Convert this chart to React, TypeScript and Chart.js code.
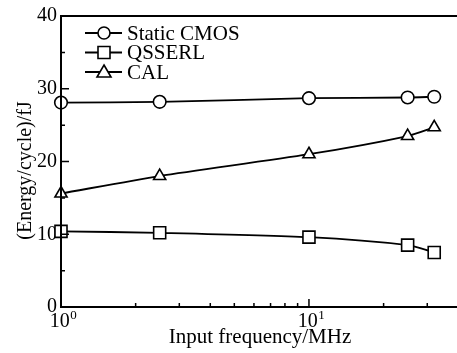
import React, { useEffect, useRef } from "react";
import { Chart, registerables } from "chart.js";

Chart.register(...registerables);

const frequencies = [1, 2.5, 10, 25, 32];
const staticCmos = [28.1, 28.2, 28.7, 28.8, 28.9];
const qsserl = [10.4, 10.2, 9.6, 8.5, 7.5];
const cal = [15.6, 18.0, 21.0, 23.5, 24.7];
const seriesNames = ["Static CMOS", "QSSERL", "CAL"];
const seriesMarkers = ["circle", "rect", "triangle"];
const yMajorTicks = [0, 10, 20, 30, 40];
const yMinorTicks = [5, 15, 25, 35];
const xMinorTicks = [2, 3, 4, 5, 6, 7, 8, 9, 20, 30];
const xMajorTicks = [1, 10];
const xTickExponents = ["0", "1"];
const xTitle = "Input frequency/MHz";
const yTitle = "(Energy/cycle)/fJ";

const FONT = '"Liberation Serif", "Times New Roman", serif';

function drawMarker(ctx: CanvasRenderingContext2D, kind: string, x: number, y: number) {
  ctx.save();
  ctx.fillStyle = "#fff";
  ctx.strokeStyle = "#000";
  ctx.lineWidth = 1.6;
  ctx.beginPath();
  if (kind === "circle") {
    ctx.arc(x, y, 6, 0, Math.PI * 2);
  } else if (kind === "rect") {
    ctx.rect(x - 6, y - 6, 12, 12);
  } else {
    ctx.moveTo(x, y - 7);
    ctx.lineTo(x + 7, y + 5);
    ctx.lineTo(x - 7, y + 5);
    ctx.closePath();
  }
  ctx.fill();
  ctx.stroke();
  ctx.restore();
}

const decorPlugin = {
  id: "decor",
  afterDraw(chart: any) {
    const ctx: CanvasRenderingContext2D = chart.ctx;
    const { left, top, bottom } = chart.chartArea;
    const xs = chart.scales.x;
    const ys = chart.scales.y;
    ctx.save();
    ctx.strokeStyle = "#000";
    ctx.lineWidth = 2;
    ctx.beginPath();
    ctx.moveTo(chart.width, top);
    ctx.lineTo(left, top);
    ctx.lineTo(left, bottom);
    ctx.lineTo(chart.width, bottom);
    ctx.stroke();

    ctx.lineWidth = 1.5;
    ctx.beginPath();
    for (const v of yMajorTicks) {
      const p = ys.getPixelForValue(v);
      ctx.moveTo(left, p);
      ctx.lineTo(left + 8, p);
    }
    for (const v of yMinorTicks) {
      const p = ys.getPixelForValue(v);
      ctx.moveTo(left, p);
      ctx.lineTo(left + 4, p);
    }
    for (const v of xMinorTicks) {
      const p = xs.getPixelForValue(v);
      ctx.moveTo(p, bottom);
      ctx.lineTo(p, bottom - 4);
    }
    for (const v of xMajorTicks) {
      const p = xs.getPixelForValue(v);
      ctx.moveTo(p, bottom);
      ctx.lineTo(p, bottom - 8);
    }
    ctx.stroke();

    // x tick labels with superscripts
    ctx.fillStyle = "#000";
    ctx.textBaseline = "alphabetic";
    xMajorTicks.forEach((v, i) => {
      const p = xs.getPixelForValue(v);
      ctx.font = `20px ${FONT}`;
      const w1 = ctx.measureText("10").width;
      ctx.font = `13px ${FONT}`;
      const w2 = ctx.measureText(xTickExponents[i]).width;
      const x0 = p - (w1 + w2) / 2 + 2;
      ctx.font = `20px ${FONT}`;
      ctx.textAlign = "left";
      ctx.fillText("10", x0, bottom + 20);
      ctx.font = `13px ${FONT}`;
      ctx.fillText(xTickExponents[i], x0 + w1 + 0.5, bottom + 12);
    });

    // axis titles
    ctx.font = `21px ${FONT}`;
    ctx.textAlign = "center";
    ctx.fillText(xTitle, 260, bottom + 36);
    ctx.font = `20px ${FONT}`;
    ctx.save();
    ctx.translate(31, (top + bottom) / 2 + 9);
    ctx.rotate(-Math.PI / 2);
    ctx.fillText(yTitle, 0, 0);
    ctx.restore();

    // legend
    const rows = [33, 52.5, 72];
    seriesNames.forEach((name, i) => {
      const y = rows[i];
      ctx.lineWidth = 1.8;
      ctx.beginPath();
      ctx.moveTo(85, y);
      ctx.lineTo(122, y);
      ctx.stroke();
      drawMarker(ctx, seriesMarkers[i], 104, y);
      ctx.fillStyle = "#000";
      ctx.font = `21px ${FONT}`;
      ctx.textAlign = "left";
      ctx.textBaseline = "middle";
      ctx.fillText(name, 127, y + 1);
    });
    ctx.restore();
  },
};

export default function App() {
  const ref = useRef<HTMLCanvasElement | null>(null);
  useEffect(() => {
    if (!ref.current) return;
    const mk = (data: number[], style: string) => ({
      data: frequencies.map((f, i) => ({ x: f, y: data[i] })),
      borderColor: "#000",
      borderWidth: 1.8,
      backgroundColor: "#fff",
      pointStyle: style,
      pointRadius: style === "rect" ? 8.5 : style === "triangle" ? 7 : 6.3,
      pointBorderWidth: 1.6,
      pointBackgroundColor: "#fff",
      pointBorderColor: "#000",
      tension: 0.25,
      clip: false,
    });
    const chart = new Chart(ref.current, {
      type: "line",
      data: {
        datasets: [
          mk(staticCmos, "circle"),
          mk(qsserl, "rect"),
          mk(cal, "triangle"),
        ] as any,
      },
      options: {
        responsive: false,
        animation: false,
        layout: { padding: { top: 14, right: 0, left: 0, bottom: 0 } },
        plugins: { legend: { display: false }, tooltip: { enabled: false } },
        scales: {
          x: {
            type: "logarithmic",
            min: 1,
            max: 36,
            grid: { display: false, drawTicks: false },
            border: { display: false },
            ticks: { display: false },
            afterFit: (s: any) => {
              s.height = 46;
            },
          },
          y: {
            min: 0,
            max: 40,
            grid: { display: false, drawTicks: false },
            border: { display: false },
            ticks: {
              stepSize: 10,
              padding: 4,
              color: "#000",
              font: { family: FONT, size: 20 },
            },
            afterFit: (s: any) => {
              s.width = 61;
            },
          },
        },
      } as any,
      plugins: [decorPlugin],
    });
    return () => chart.destroy();
  }, []);
  return (
    <div style={{ position: "absolute", left: 0, top: 0, width: 457, height: 353, overflow: "hidden" }}>
      <canvas ref={ref} width={457} height={353} />
    </div>
  );
}
